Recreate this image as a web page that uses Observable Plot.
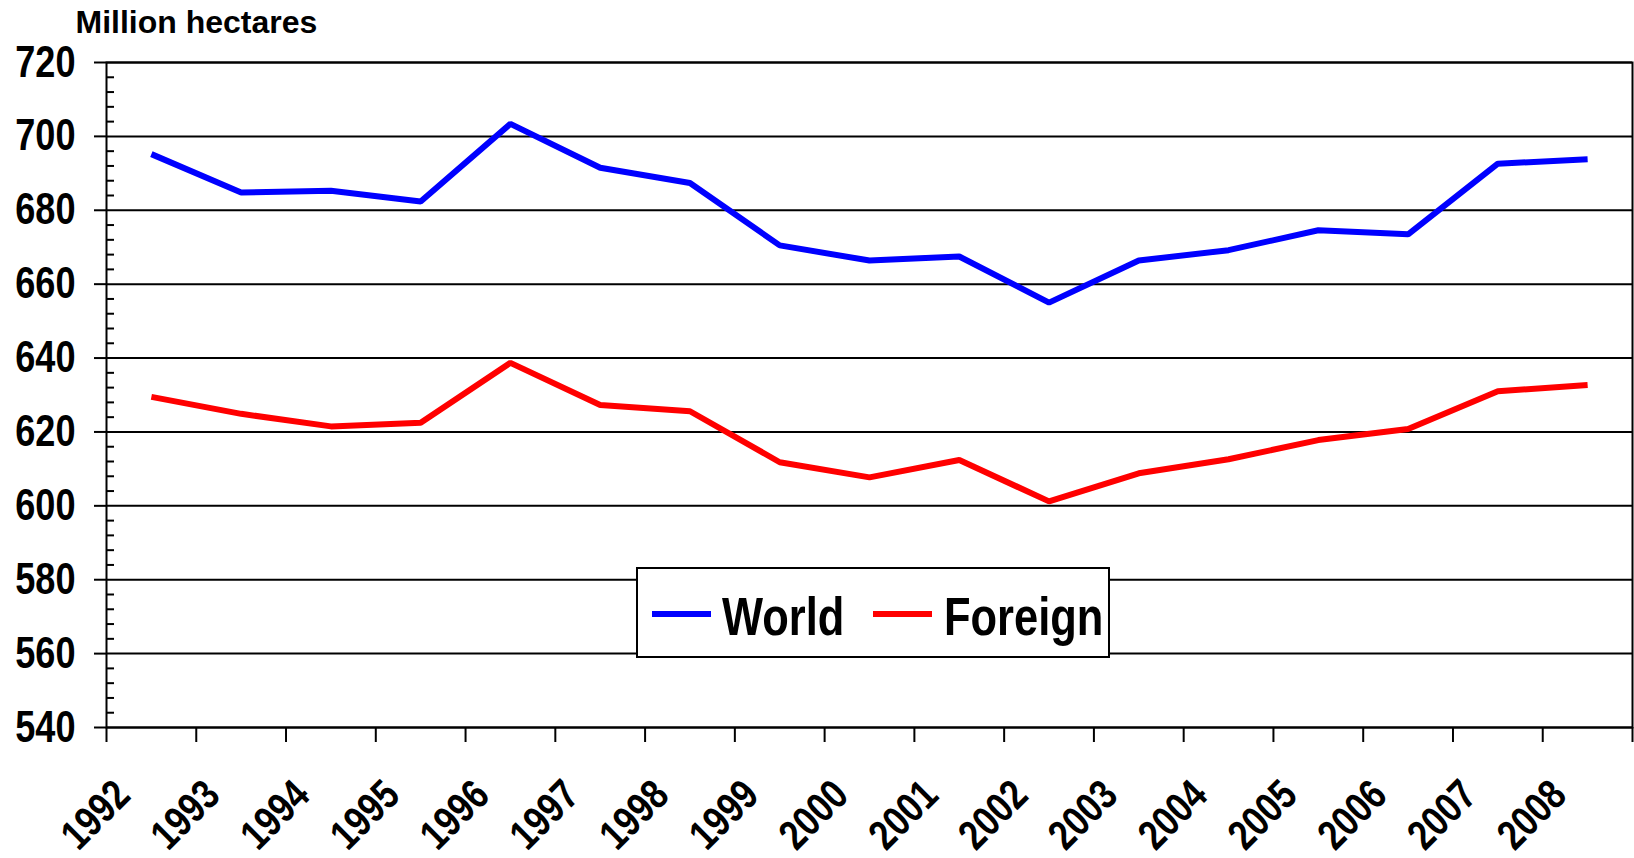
<!DOCTYPE html>
<html>
<head>
<meta charset="utf-8">
<script src="https://cdn.jsdelivr.net/npm/d3@7"></script>
<script src="https://cdn.jsdelivr.net/npm/@observablehq/plot@0.6"></script>
<style>
  body { margin: 0; background: #fff; }
  #wrap { position: relative; width: 1634px; height: 858px; }
  #legend { position: absolute; left: 636px; top: 567px; }
</style>
</head>
<body>
<div id="wrap"></div>
<script>
const years = [1992,1993,1994,1995,1996,1997,1998,1999,2000,2001,2002,2003,2004,2005,2006,2007,2008];
const world = [695.2,684.8,685.3,682.4,703.4,691.5,687.4,670.5,666.4,667.5,655.0,666.4,669.2,674.6,673.5,692.6,693.8];
const foreign = [629.5,624.9,621.5,622.5,638.7,627.3,625.6,611.8,607.7,612.4,601.2,608.8,612.6,617.8,620.8,631.0,632.7];
const yTicks = [540,560,580,600,620,640,660,680,700,720];
const seriesNames = ["World", "Foreign"];
const seriesColors = ["#0000ff", "#ff0000"];
const titleText = "Million hectares";

const FONT = '"Liberation Sans",Arial,sans-serif';
const NARROW_RATIO = 0.82; // emulate a narrow bold face

const bounds = years.map(y => y - 0.5).concat([years[years.length - 1] + 0.5]);
const minors = d3.range(540, 721, 4).filter(v => v % 20 !== 0);

const chart = Plot.plot({
  width: 1634,
  height: 858,
  marginLeft: 106,
  marginRight: 2,
  marginTop: 62,
  marginBottom: 131,
  x: {type: "linear", domain: [bounds[0], bounds[bounds.length - 1]], axis: null},
  y: {domain: [540, 720], axis: null},
  style: {fontFamily: FONT, fontWeight: "bold", background: "#fff", color: "#000", overflow: "visible"},
  marks: [
    Plot.gridY(yTicks, {stroke: "#000", strokeOpacity: 1, strokeWidth: 2}),
    Plot.frame({stroke: "#000", strokeWidth: 2}),
    Plot.axisY(yTicks, {tickSize: 12, tickPadding: 19, fontSize: 44, fontWeight: "bold", strokeWidth: 2, tickFormat: d => String(d), className: "narrow"}),
    Plot.axisY(minors, {tickSize: 8, dx: 8, strokeWidth: 2, tickFormat: () => ""}),
    Plot.axisX(bounds, {tickSize: 15, strokeWidth: 2, tickFormat: () => ""}),
    Plot.text(years, {x: d => d, text: d => String(d), frameAnchor: "bottom", rotate: -45, textAnchor: "end", lineAnchor: "bottom", fontSize: 42, fontWeight: "bold", dx: -19, dy: 70, className: "narrow"}),
    Plot.text([titleText], {text: d => d, frameAnchor: "top-left", textAnchor: "start", lineAnchor: "bottom", dx: -31, dy: -30, fontSize: 32, fontWeight: "bold"}),
    Plot.line(world, {x: (d, i) => years[i], y: d => d, stroke: seriesColors[0], strokeWidth: 6, strokeLinejoin: "miter", strokeLinecap: "butt"}),
    Plot.line(foreign, {x: (d, i) => years[i], y: d => d, stroke: seriesColors[1], strokeWidth: 6, strokeLinejoin: "miter", strokeLinecap: "butt"})
  ]
});
const wrap = document.getElementById("wrap");
wrap.appendChild(chart);

// Legend overlay
const lg = d3.create("svg").attr("id", "legend").attr("width", 474).attr("height", 91)
  .style("font-family", FONT).style("font-weight", "bold");
lg.append("rect").attr("x", 1).attr("y", 1).attr("width", 472).attr("height", 89)
  .attr("fill", "#fff").attr("stroke", "#000").attr("stroke-width", 2);
const items = [{sx: 16, tx: 86}, {sx: 237, tx: 308}];
seriesNames.forEach((name, i) => {
  lg.append("line").attr("x1", items[i].sx).attr("x2", items[i].sx + 59).attr("y1", 47).attr("y2", 47)
    .attr("stroke", seriesColors[i]).attr("stroke-width", 6);
  lg.append("text").attr("class", "narrowtxt").attr("x", items[i].tx).attr("y", 68).attr("font-size", 53).attr("fill", "#000").text(name);
});
wrap.appendChild(lg.node());

// Condense bold text horizontally (no narrow face installed)
function condense(el) {
  const len = el.getComputedTextLength();
  if (len > 0) {
    el.setAttribute("textLength", (len * NARROW_RATIO).toFixed(2));
    el.setAttribute("lengthAdjust", "spacingAndGlyphs");
  }
}
chart.querySelectorAll(".narrow text").forEach(condense);
lg.node().querySelectorAll("text.narrowtxt").forEach(condense);
</script>
</body>
</html>
